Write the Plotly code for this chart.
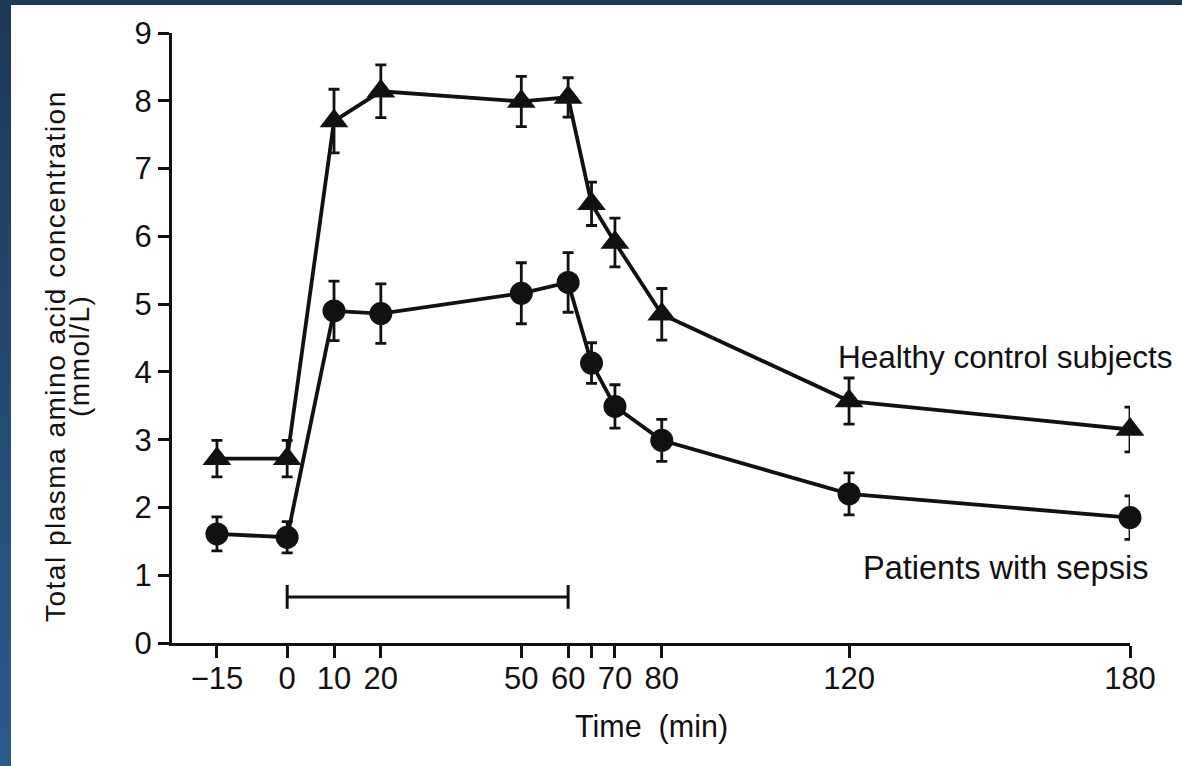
import plotly.graph_objects as go

# Sampling times (min) and mean ± SE of total plasma amino acids (mmol/L)
time_min = [-15, 0, 10, 20, 50, 60, 65, 70, 80, 120, 180]
healthy = [2.72, 2.72, 7.70, 8.14, 7.99, 8.05, 6.48, 5.91, 4.85, 3.57, 3.15]
healthy_se = [0.27, 0.27, 0.47, 0.39, 0.37, 0.29, 0.32, 0.36, 0.38, 0.34, 0.33]
sepsis = [1.61, 1.56, 4.90, 4.86, 5.16, 5.32, 4.13, 3.49, 2.99, 2.20, 1.85]
sepsis_se = [0.25, 0.23, 0.44, 0.44, 0.45, 0.44, 0.30, 0.32, 0.31, 0.31, 0.32]

# Infusion period bar
infusion_x = [0, 60]
infusion_y = [0.68, 0.68]

tick_vals = [-15, 0, 10, 20, 50, 60, 65, 70, 80, 120, 180]
tick_text = ["\u221215", "0", "10", "20", "50", "60", "", "70", "80", "120", "180"]
y_ticks = [0, 1, 2, 3, 4, 5, 6, 7, 8, 9]

W, H = 1182, 766
ML, MR, MT, MB = 172, 52, 33, 123
FONT = "Liberation Sans, Arial, Helvetica, sans-serif"
INK = "#111111"


def px_x(p):
    return (p - ML) / (W - ML - MR)


def px_y(p):
    return (H - MB - p) / (H - MT - MB)


fig = go.Figure()

err_style = dict(type="data", visible=True, thickness=2.8, width=5.5, color=INK)

fig.add_trace(go.Scatter(
    x=time_min, y=healthy, mode="lines+markers", name="Healthy control subjects",
    line=dict(color=INK, width=3.8),
    marker=dict(symbol="triangle-up", size=25, color=INK),
    error_y=dict(array=healthy_se, **err_style),
    cliponaxis=False,
))
fig.add_trace(go.Scatter(
    x=time_min, y=sepsis, mode="lines+markers", name="Patients with sepsis",
    line=dict(color=INK, width=3.8),
    marker=dict(symbol="circle", size=23, color=INK),
    error_y=dict(array=sepsis_se, **err_style),
    cliponaxis=False,
))
fig.add_trace(go.Scatter(
    x=infusion_x, y=infusion_y, mode="lines+markers", name="Infusion",
    line=dict(color=INK, width=3),
    marker=dict(symbol="line-ns", size=17, line=dict(color=INK, width=3)),
    cliponaxis=False,
))

# Slide frame: dark top band and a left band that lightens downward
shapes = [dict(type="rect", xref="paper", yref="paper",
               x0=px_x(0), x1=px_x(W), y0=px_y(5), y1=px_y(0),
               fillcolor="#1e3a5b", line=dict(width=0), layer="above")]
top_rgb = (0x1d, 0x38, 0x59)
bot_rgb = (0x2b, 0x5b, 0x8b)
n_strips = 24
for i in range(n_strips):
    f = i / (n_strips - 1)
    c = tuple(round(a + (b - a) * f) for a, b in zip(top_rgb, bot_rgb))
    y0 = H * i / n_strips
    y1 = H * (i + 1) / n_strips + 1
    shapes.append(dict(type="rect", xref="paper", yref="paper",
                       x0=px_x(0), x1=px_x(11), y0=px_y(y1), y1=px_y(y0),
                       fillcolor="rgb(%d,%d,%d)" % c, line=dict(width=0), layer="above"))

annotations = [
    dict(text="Healthy control subjects", x=117.3, y=4.22, xref="x", yref="y",
         xanchor="left", yanchor="middle", showarrow=False,
         font=dict(family=FONT, size=31.5, color=INK)),
    dict(text="Patients with sepsis", x=122.6, y=1.1, xref="x", yref="y",
         xanchor="left", yanchor="middle", showarrow=False,
         font=dict(family=FONT, size=32.5, color=INK)),
    dict(text="Time\u00a0 (min)", x=px_x(651), y=px_y(726), xref="paper", yref="paper",
         xanchor="center", yanchor="middle", showarrow=False,
         font=dict(family=FONT, size=30.5, color=INK)),
    dict(text='<span style="letter-spacing:1.5px">Total plasma amino acid concentration</span>',
         x=px_x(55), y=px_y(356), xref="paper", yref="paper",
         xanchor="center", yanchor="middle", showarrow=False, textangle=-90,
         font=dict(family=FONT, size=28, color=INK)),
    dict(text='<span style="letter-spacing:1.5px">(mmol/L)</span>',
         x=px_x(79), y=px_y(356), xref="paper", yref="paper",
         xanchor="center", yanchor="middle", showarrow=False, textangle=-90,
         font=dict(family=FONT, size=28, color=INK)),
]

fig.update_layout(
    width=W, height=H,
    margin=dict(l=ML, r=MR, t=MT, b=MB, pad=0),
    paper_bgcolor="white", plot_bgcolor="white",
    showlegend=False,
    font=dict(family=FONT, color=INK),
    shapes=shapes,
    annotations=annotations,
    xaxis=dict(
        range=[-24.6, 180], tickmode="array", tickvals=tick_vals, ticktext=tick_text,
        showline=True, linecolor=INK, linewidth=3, mirror=False,
        ticks="outside", ticklen=12, tickwidth=2.8, tickcolor=INK,
        showgrid=False, zeroline=False, tickfont=dict(family=FONT, size=31, color=INK),
        ticklabelstandoff=-6,
    ),
    yaxis=dict(
        range=[0, 9], tickmode="array", tickvals=y_ticks,
        showline=True, linecolor=INK, linewidth=3, mirror=False,
        ticks="outside", ticklen=11, tickwidth=2.8, tickcolor=INK,
        showgrid=False, zeroline=False, tickfont=dict(family=FONT, size=31, color=INK),
    ),
)

fig.write_html("out.html")
